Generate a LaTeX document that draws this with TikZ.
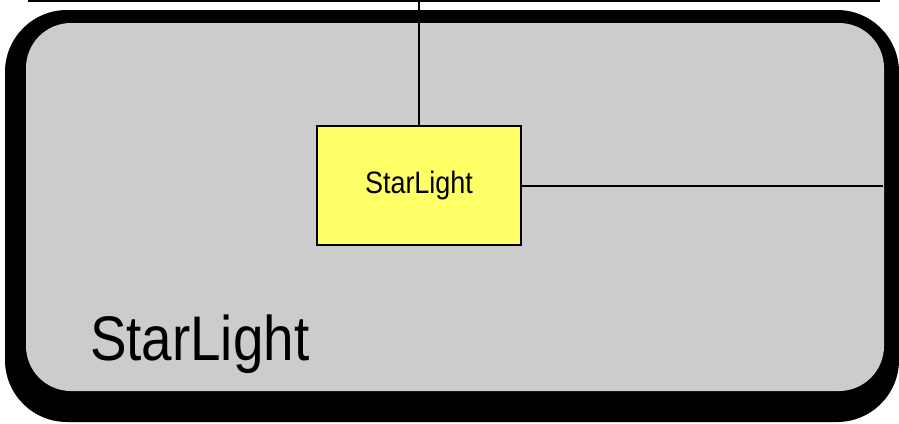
\documentclass[tikz,border=0pt]{standalone}
\usepackage{fontspec}
\setmainfont{Liberation Sans}[FakeStretch=0.87]
\usetikzlibrary{positioning}
\definecolor{siteGray}{HTML}{CCCCCC}
\definecolor{boxYellow}{HTML}{FFFF66}
\def\Wsite{858pt}
\def\Hsite{368pt}
\def\Wbox{204pt}
\def\Hbox{119pt}
\tikzstyle{every path} = [line width=2pt]
\tikzstyle{shadow} = [fill=black, rounded corners=62pt]
\tikzstyle{site}   = [rectangle, fill=siteGray, minimum width=\Wsite, minimum height=\Hsite, inner sep=0pt, rounded corners=45pt]
\tikzstyle{device} = [rectangle, draw=black, line width=2pt, fill=boxYellow, minimum width=\Wbox, minimum height=\Hbox, text centered, font=\fontsize{31}{31}\selectfont]
\tikzstyle{sitename} = [inner sep=0pt, font=\fontsize{63}{63}\selectfont]
\tikzstyle{link} = [line width=2pt]

\begin{document}
\begin{tikzpicture}[x=1pt, y=-1pt]
\useasboundingbox (0,0) rectangle (899,423);
% Objects
    % Site
    \fill [shadow] (5,10) rectangle (899,422);
    \node (site)    [site, anchor=north west] at (25,22) {};
    \node (name)    [sitename, anchor=base west] at (89,360) {StarLight};
    % Device
    \node (starlight) [device] at (419,185.5) {StarLight};
    % Free ends
    \coordinate (busL)  at (28,0.8);
    \coordinate (busR)  at (880,0.8);
    \coordinate (edgeR) at (883,185.5);

% Lines
    \draw [link] (busL) -- (busR);
    \draw [link] (starlight.north) -- (starlight.north |- busL);
    \draw [link] (starlight.east)  -- (starlight.east -| edgeR);
\end{tikzpicture}
\end{document}
